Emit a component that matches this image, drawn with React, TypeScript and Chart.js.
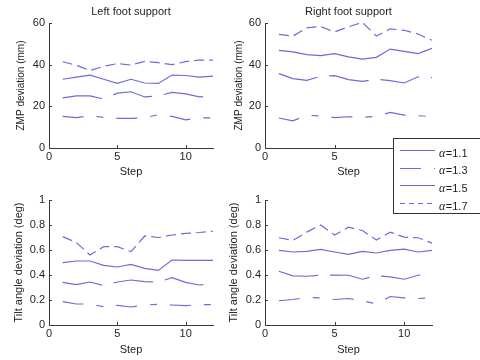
import React, { useEffect, useRef } from "react";
import { Chart, registerables } from "chart.js";

Chart.register(...registerables);

// ---------- data ----------
const steps = [1, 2, 3, 4, 5, 6, 7, 8, 9, 10, 11, 12];
const alphaLabels = ["α=1.1", "α=1.3", "α=1.5", "α=1.7"];
const xTicks = [0, 5, 10];
const zmpTicks = [0, 20, 40, 60];
const tiltTicks = [0, 0.2, 0.4, 0.6, 0.8, 1];
const panelTitles = ["Left foot support", "Right foot support"];
const xTitle = "Step";
const zmpTitle = "ZMP deviation (mm)";
const tiltTitle = "Tilt angle deviation (deg)";

const leftZmp11 = [24.1, 25, 25, 23.5, 26.3, 27, 24.5, 25, 26.7, 26, 24.5, 25];
const leftZmp13 = [15.2, 14.6, 15.5, 14.7, 14.2, 14.2, 14.5, 16, 15.2, 13.5, 14.5, 14.5];
const leftZmp15 = [33, 34, 35, 33, 31, 33, 31.2, 31, 35, 34.8, 34, 34.5];
const leftZmp17 = [41.4, 39.7, 37.2, 39.2, 40.5, 39.8, 41.6, 41, 40, 41.5, 42.2, 42.2];

const rightZmp11 = [35.7, 33.3, 32.5, 34.4, 34.7, 32.8, 32, 33.1, 32.3, 31.2, 34.2, 33.8];
const rightZmp13 = [14.4, 13, 15.7, 15.4, 14.6, 15, 14.7, 15.2, 17.1, 15.8, 15.5, 15];
const rightZmp15 = [46.9, 46.1, 44.8, 44.3, 45.3, 43.7, 42.7, 43.5, 47.5, 46.4, 45.3, 47.8];
const rightZmp17 = [54.5, 53.7, 57.7, 58.3, 55.7, 58.2, 60.3, 53.7, 57.2, 56.5, 54.7, 51.7];

const leftTilt11 = [0.341, 0.323, 0.344, 0.315, 0.344, 0.36, 0.347, 0.344, 0.379, 0.341, 0.32, 0.328];
const leftTilt13 = [0.187, 0.168, 0.168, 0.147, 0.157, 0.144, 0.16, 0.165, 0.16, 0.155, 0.163, 0.163];
const leftTilt15 = [0.499, 0.512, 0.512, 0.477, 0.464, 0.485, 0.453, 0.437, 0.52, 0.517, 0.517, 0.517];
const leftTilt17 = [0.707, 0.66, 0.56, 0.627, 0.627, 0.587, 0.712, 0.7, 0.72, 0.733, 0.74, 0.75];

const rightTilt11 = [0.43, 0.393, 0.39, 0.398, 0.4, 0.398, 0.366, 0.395, 0.385, 0.366, 0.398, 0.405];
const rightTilt13 = [0.194, 0.204, 0.22, 0.217, 0.204, 0.212, 0.194, 0.17, 0.228, 0.217, 0.212, 0.217];
const rightTilt15 = [0.597, 0.584, 0.589, 0.605, 0.584, 0.565, 0.589, 0.576, 0.597, 0.607, 0.584, 0.597];
const rightTilt17 = [0.698, 0.676, 0.743, 0.8, 0.72, 0.782, 0.756, 0.68, 0.743, 0.703, 0.698, 0.655];

// ---------- styles ----------
const LINE = "rgb(108,108,216)";
const LINE_W = 1.2;
const seriesDash = [[40, 12], [21, 13, 7, 13], [], [10, 5]];
const legendDash = [[40, 12], [21, 13, 7, 13], [], [5, 4]];
const FONT = "'Liberation Sans', Arial, Helvetica, sans-serif";
const AXIS = "#3a3a3a";
const TEXT = "#1e1e1e";

type PanelCfg = {
  left: number;
  top: number;
  width: number;
  height: number;
  area: { l: number; r: number; t: number; b: number };
  title?: string;
  yTitle: string;
  yTitleSize: number;
  yTitlePad: number;
  xTitlePad: number;
  yMin: number;
  yMax: number;
  yTicks: number[];
  series: number[][];
};

const panels: PanelCfg[] = [
  {
    left: 0, top: 0, width: 226, height: 180,
    area: { l: 49, r: 213, t: 23, b: 148 },
    title: panelTitles[0], yTitle: zmpTitle, yTitleSize: 10, yTitlePad: 15, xTitlePad: 1,
    yMin: 0, yMax: 60, yTicks: zmpTicks,
    series: [leftZmp11, leftZmp13, leftZmp15, leftZmp17],
  },
  {
    left: 226, top: 0, width: 254, height: 180,
    area: { l: 265, r: 432, t: 23, b: 148 },
    title: panelTitles[1], yTitle: zmpTitle, yTitleSize: 10, yTitlePad: 7, xTitlePad: 1,
    yMin: 0, yMax: 60, yTicks: zmpTicks,
    series: [rightZmp11, rightZmp13, rightZmp15, rightZmp17],
  },
  {
    left: 0, top: 180, width: 226, height: 180,
    area: { l: 49, r: 213, t: 200, b: 325 },
    yTitle: tiltTitle, yTitleSize: 11, yTitlePad: 12, xTitlePad: 3,
    yMin: 0, yMax: 1, yTicks: tiltTicks,
    series: [leftTilt11, leftTilt13, leftTilt15, leftTilt17],
  },
  {
    left: 226, top: 180, width: 254, height: 180,
    area: { l: 265, r: 432, t: 200, b: 325 },
    yTitle: tiltTitle, yTitleSize: 11, yTitlePad: 1, xTitlePad: 3,
    yMin: 0, yMax: 1, yTicks: tiltTicks,
    series: [rightTilt11, rightTilt13, rightTilt15, rightTilt17],
  },
];

const tickMarks = {
  id: "tickMarks",
  afterDatasetsDraw(chart: any) {
    const { ctx, chartArea } = chart;
    const xs = chart.scales.x;
    const ys = chart.scales.y;
    ctx.save();
    ctx.strokeStyle = AXIS;
    ctx.lineWidth = 1;
    ctx.beginPath();
    xs.ticks.forEach((t: any) => {
      const px = Math.round(xs.getPixelForValue(t.value)) + 0.5;
      ctx.moveTo(px, chartArea.bottom);
      ctx.lineTo(px, chartArea.bottom - 3);
    });
    ys.ticks.forEach((t: any) => {
      const py = Math.round(ys.getPixelForValue(t.value)) + 0.5;
      ctx.moveTo(chartArea.left, py);
      ctx.lineTo(chartArea.left + 3, py);
    });
    ctx.stroke();
    ctx.restore();
  },
};

function Panel({ cfg }: { cfg: PanelCfg }) {
  const ref = useRef<HTMLCanvasElement | null>(null);
  useEffect(() => {
    if (!ref.current) return;
    const relT = cfg.area.t - cfg.top;
    const relB = cfg.area.b - cfg.top;
    const chart = new Chart(ref.current, {
      type: "line",
      data: {
        datasets: cfg.series.map((vals, i) => ({
          label: alphaLabels[i],
          data: steps.map((s, j) => ({ x: s, y: vals[j] })),
          borderColor: LINE,
          borderWidth: LINE_W,
          borderDash: seriesDash[i],
          pointRadius: 0,
          fill: false,
          tension: 0,
        })),
      },
      options: {
        responsive: false,
        animation: false,
        devicePixelRatio: 1,
        layout: {
          padding: {
            left: 0,
            right: cfg.left + cfg.width - cfg.area.r,
            top: cfg.title ? 0 : relT,
            bottom: 0,
          },
        },
        plugins: {
          legend: { display: false },
          tooltip: { enabled: false },
          title: {
            display: !!cfg.title,
            text: cfg.title || "",
            fullSize: false,
            color: TEXT,
            font: { family: FONT, size: 11, weight: "normal", lineHeight: 1 },
            padding: { top: 6, bottom: relT - 17 },
          },
        },
        scales: {
          x: {
            type: "linear",
            min: 0,
            max: 12,
            afterBuildTicks: (s: any) => {
              s.ticks = xTicks.map((v) => ({ value: v }));
            },
            afterFit: (s: any) => {
              s.height = cfg.height - relB;
            },
            grid: { display: false, drawTicks: false },
            border: { display: true, color: AXIS, width: 1 },
            ticks: {
              padding: 2,
              maxRotation: 0,
              autoSkip: false,
              color: TEXT,
              font: { family: FONT, size: 11 },
              callback: (v: any) => String(v),
            },
            title: {
              display: true,
              text: xTitle,
              color: TEXT,
              font: { family: FONT, size: 11, lineHeight: 1.2 },
              padding: { top: 0, bottom: cfg.xTitlePad },
            },
          },
          y: {
            type: "linear",
            min: cfg.yMin,
            max: cfg.yMax,
            afterBuildTicks: (s: any) => {
              s.ticks = cfg.yTicks.map((v) => ({ value: v }));
            },
            afterFit: (s: any) => {
              s.width = cfg.area.l - cfg.left;
            },
            grid: { display: false, drawTicks: false },
            border: { display: true, color: AXIS, width: 1 },
            ticks: {
              padding: 4,
              autoSkip: false,
              color: TEXT,
              font: { family: FONT, size: 11 },
              callback: (v: any) => String(v),
            },
            title: {
              display: true,
              text: cfg.yTitle,
              color: TEXT,
              font: { family: FONT, size: cfg.yTitleSize, lineHeight: 1.2 },
              padding: { top: cfg.yTitlePad, bottom: 0 },
            },
          },
        },
      },
      plugins: [tickMarks],
    } as any);
    return () => chart.destroy();
  }, [cfg]);
  return (
    <canvas
      ref={ref}
      width={cfg.width}
      height={cfg.height}
      style={{
        position: "absolute",
        left: cfg.left,
        top: cfg.top,
        width: cfg.width,
        height: cfg.height,
      }}
    />
  );
}

const LEG = { left: 393, top: 138, width: 87, height: 76 };

const legendBox = {
  id: "legendBox",
  afterDraw(chart: any) {
    const { ctx } = chart;
    const W = chart.width;
    const H = chart.height;
    ctx.save();
    ctx.fillStyle = "#ffffff";
    ctx.fillRect(0, 0, W, H);
    ctx.strokeStyle = "#333";
    ctx.lineWidth = 1;
    ctx.strokeRect(0.5, 0.5, W + 10, H - 1);
    chart.data.datasets.forEach((ds: any, i: number) => {
      const ty = 15.5 + i * 17.7;
      const ly = Math.round(ty - 3.5) + 0.5;
      ctx.setLineDash(legendDash[i]);
      ctx.strokeStyle = ds.borderColor;
      ctx.lineWidth = ds.borderWidth;
      ctx.beginPath();
      ctx.moveTo(7, ly);
      ctx.lineTo(42, ly);
      ctx.stroke();
      ctx.setLineDash([]);
      const sym = ds.label.slice(0, 1);
      const rest = ds.label.slice(1);
      ctx.fillStyle = TEXT;
      ctx.textBaseline = "middle";
      ctx.textAlign = "left";
      ctx.font = "italic 12px 'Liberation Serif', serif";
      ctx.fillText(sym, 46, ty);
      const w = ctx.measureText(sym).width;
      ctx.font = "11px " + FONT;
      ctx.fillText(rest, 46 + w + 0.5, ty);
    });
    ctx.restore();
  },
};

function Legend() {
  const ref = useRef<HTMLCanvasElement | null>(null);
  useEffect(() => {
    if (!ref.current) return;
    const chart = new Chart(ref.current, {
      type: "line",
      data: {
        datasets: alphaLabels.map((lab, i) => ({
          label: lab,
          data: [],
          borderColor: LINE,
          borderWidth: LINE_W,
          borderDash: seriesDash[i],
        })),
      },
      options: {
        responsive: false,
        animation: false,
        devicePixelRatio: 1,
        plugins: { legend: { display: false }, tooltip: { enabled: false } },
        scales: { x: { display: false }, y: { display: false } },
      },
      plugins: [legendBox],
    } as any);
    return () => chart.destroy();
  }, []);
  return (
    <canvas
      ref={ref}
      width={LEG.width}
      height={LEG.height}
      style={{
        position: "absolute",
        left: LEG.left,
        top: LEG.top,
        width: LEG.width,
        height: LEG.height,
      }}
    />
  );
}

export default function App() {
  return (
    <div
      style={{
        position: "fixed",
        left: 0,
        top: 0,
        width: 480,
        height: 360,
        background: "#ffffff",
        overflow: "hidden",
      }}
    >
      {panels.map((p, i) => (
        <Panel key={i} cfg={p} />
      ))}
      <Legend />
    </div>
  );
}
